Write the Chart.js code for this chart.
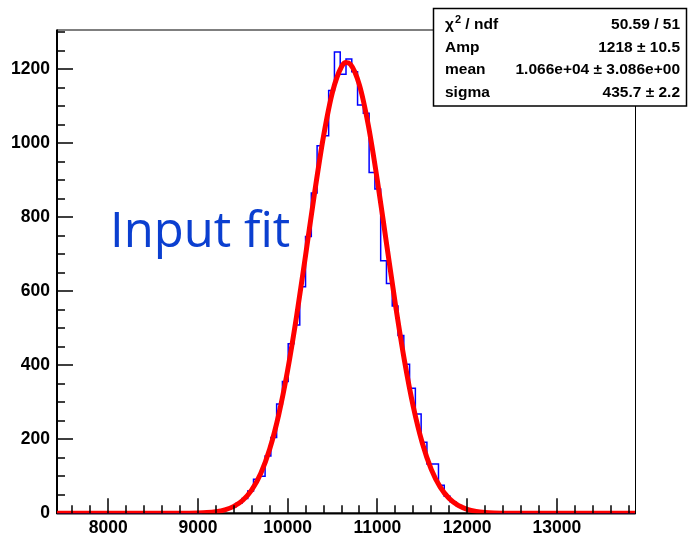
<!DOCTYPE html>
<html>
<head>
<meta charset="utf-8">
<script src="https://cdn.jsdelivr.net/npm/chart.js@4.4.1/dist/chart.umd.min.js"></script>
<style>
html, body { margin: 0; padding: 0; background: #fff; }
canvas { display: block; }
</style>
</head>
<body>
<canvas id="fit-chart" width="692" height="536"></canvas>
<script>
// histogram: 100 bins from binLo, width binWidth
var binLo = 7430;
var binWidth = 64.4;
var counts = [
  0, 0, 0, 0, 0, 0, 0, 0, 0, 0,
  0, 0, 0, 0, 0, 0, 0, 0, 0, 0,
  0, 0, 0, 1, 1, 2, 3, 5, 7, 11,
  18, 27, 40, 60, 92, 100, 155, 205, 295, 356,
  458, 509, 612, 748, 865, 993, 1020, 1142, 1246, 1186,
  1227, 1193, 1103, 1081, 921, 876, 682, 621, 560, 480,
  403, 338, 268, 192, 133, 133, 76, 46, 31, 21,
  14, 9, 5, 3, 2, 1, 1, 0, 0, 0,
  0, 0, 0, 0, 0, 0, 0, 0, 0, 0,
  0, 0, 0, 0, 0, 0, 0, 0, 0, 0
];

// red fit curve
var fitX = [7430, 8000, 8500, 8800, 9000, 9100, 9200, 9300, 9400, 9500,
  9600, 9700, 9800, 9900, 10000, 10100, 10200, 10300, 10400, 10500,
  10600, 10650, 10700, 10800, 10900, 11000, 11100, 11200, 11300, 11400,
  11500, 11600, 11700, 11800, 11900, 12000, 12100, 12200, 12300, 12400,
  12600, 13000, 13500, 13870];
var fitY = [0, 0, 0, 0.1, 0.9, 2.0, 4.4, 9.3, 18.6, 35.2,
  63.2, 107.5, 173.6, 266.0, 386.7, 533.2, 697.6, 865.8, 1019.3, 1138.6,
  1206.5, 1217.7, 1212.9, 1156.7, 1046.6, 898.3, 731.4, 565.0, 414.1, 287.9,
  189.9, 118.8, 70.6, 39.7, 21.2, 10.8, 5.2, 2.4, 1.0, 0.4,
  0, 0, 0, 0];

var xTicks = [8000, 9000, 10000, 11000, 12000, 13000];
var yTicks = [0, 200, 400, 600, 800, 1000, 1200];
var xRange = [7430, 13870];
var yRange = [0, 1307];

// stats box
var statLabels = ["χ^2 / ndf", "Amp", "mean", "sigma"];
var statValues = ["50.59 / 51", "1218 ± 10.5", "1.066e+04 ± 3.086e+00", "435.7 ± 2.2"];

var FONT = '"Liberation Sans", Arial, Helvetica, sans-serif';

var histPoints = [];
for (var i = 0; i < counts.length; i++) {
  histPoints.push({ x: binLo + i * binWidth, y: counts[i] });
}
histPoints.push({ x: binLo + counts.length * binWidth, y: counts[counts.length - 1] });

var fitPoints = fitX.map(function (x, i) { return { x: x, y: fitY[i] }; });

// ROOT-like frame, inner ticks, stats box and label
var rootLook = {
  id: 'rootLook',
  beforeDatasetsDraw: function (chart) {
    var ctx = chart.ctx, a = chart.chartArea;
    ctx.save();
    ctx.strokeStyle = '#000';
    ctx.lineWidth = 1;
    ctx.strokeRect(a.left + 0.5, a.top + 0.5, a.right - a.left, a.bottom - a.top);
    ctx.lineWidth = 2;
    ctx.beginPath();
    ctx.moveTo(a.left, a.top);
    ctx.lineTo(a.left, a.bottom);
    ctx.lineTo(a.right, a.bottom);
    ctx.stroke();
    ctx.restore();
  },
  afterDatasetsDraw: function (chart) {
    var ctx = chart.ctx, a = chart.chartArea;
    var xs = chart.scales.x, ys = chart.scales.y;
    ctx.save();
    ctx.strokeStyle = '#000';
    ctx.lineWidth = 1.5;
    ctx.beginPath();
    for (var v = 50; v < yRange[1]; v += 50) {
      var py = Math.round(ys.getPixelForValue(v));
      var len = v % 200 === 0 ? 16 : 8;
      ctx.moveTo(a.left, py);
      ctx.lineTo(a.left + len, py);
    }
    for (var u = 7600; u < xRange[1]; u += 200) {
      var px = Math.round(xs.getPixelForValue(u));
      var len2 = u % 1000 === 0 ? 15 : 8;
      ctx.moveTo(px, a.bottom);
      ctx.lineTo(px, a.bottom - len2);
    }
    ctx.stroke();
    ctx.restore();
  },
  afterDraw: function (chart) {
    var ctx = chart.ctx;
    ctx.save();
    // label
    ctx.fillStyle = '#0b3fd0';
    ctx.font = '49px "Open Sans", sans-serif';
    ctx.textAlign = 'left';
    ctx.textBaseline = 'alphabetic';
    ctx.fillText('Input fit', 110, 247);

    // stats box
    ctx.fillStyle = '#fff';
    ctx.fillRect(433.5, 8.5, 253, 97.5);
    ctx.strokeStyle = '#000';
    ctx.lineWidth = 1.5;
    ctx.strokeRect(433.5, 8.5, 253, 97.5);
    var rowY = [29, 51.5, 74, 96.5];
    ctx.fillStyle = '#000';
    for (var r = 0; r < statLabels.length; r++) {
      var parts = statLabels[r].split('^');
      var x = 445;
      ctx.font = 'bold 15.5px ' + FONT;
      ctx.textAlign = 'left';
      ctx.fillText(parts[0], x, rowY[r]);
      if (parts.length > 1) {
        x += ctx.measureText(parts[0]).width + 1;
        ctx.font = 'bold 11px ' + FONT;
        ctx.fillText(parts[1].charAt(0), x, rowY[r] - 6.5);
        x += ctx.measureText(parts[1].charAt(0)).width;
        ctx.font = 'bold 15.5px ' + FONT;
        ctx.fillText(parts[1].slice(1), x, rowY[r]);
      }
      ctx.textAlign = 'right';
      ctx.fillText(statValues[r], 680, rowY[r]);
    }
    ctx.restore();
  }
};

var chart = new Chart(document.getElementById('fit-chart').getContext('2d'), {
  type: 'line',
  data: {
    datasets: [{
      label: 'fit',
      data: fitPoints,
      borderColor: '#ff0000',
      borderWidth: 5,
      pointRadius: 0,
      cubicInterpolationMode: 'monotone',
      order: 0
    }, {
      label: 'hist',
      data: histPoints,
      borderColor: '#0000ff',
      borderWidth: 1.5,
      pointRadius: 0,
      stepped: true,
      order: 1
    }]
  },
  options: {
    responsive: false,
    animation: false,
    devicePixelRatio: 1,
    layout: { padding: { left: 0, right: 57, top: 29.5, bottom: 0 } },
    plugins: { legend: { display: false }, tooltip: { enabled: false } },
    scales: {
      x: {
        type: 'linear',
        min: xRange[0],
        max: xRange[1],
        grid: { display: false, drawTicks: false },
        border: { display: false },
        afterBuildTicks: function (scale) {
          scale.ticks = xTicks.map(function (v) { return { value: v }; });
        },
        afterFit: function (scale) { scale.height = 22.7; },
        ticks: {
          autoSkip: false,
          maxRotation: 0,
          padding: 4,
          color: '#000',
          font: { family: FONT, size: 17.5, weight: 'bold' },
          callback: function (v) { return String(v); }
        }
      },
      y: {
        type: 'linear',
        min: yRange[0],
        max: yRange[1],
        grid: { display: false, drawTicks: false },
        border: { display: false },
        afterBuildTicks: function (scale) {
          scale.ticks = yTicks.map(function (v) { return { value: v }; });
        },
        afterFit: function (scale) { scale.width = 57; },
        ticks: {
          padding: 7,
          color: '#000',
          font: { family: FONT, size: 17.5, weight: 'bold' },
          callback: function (v) { return String(v); }
        }
      }
    }
  },
  plugins: [rootLook]
});
</script>
</body>
</html>
